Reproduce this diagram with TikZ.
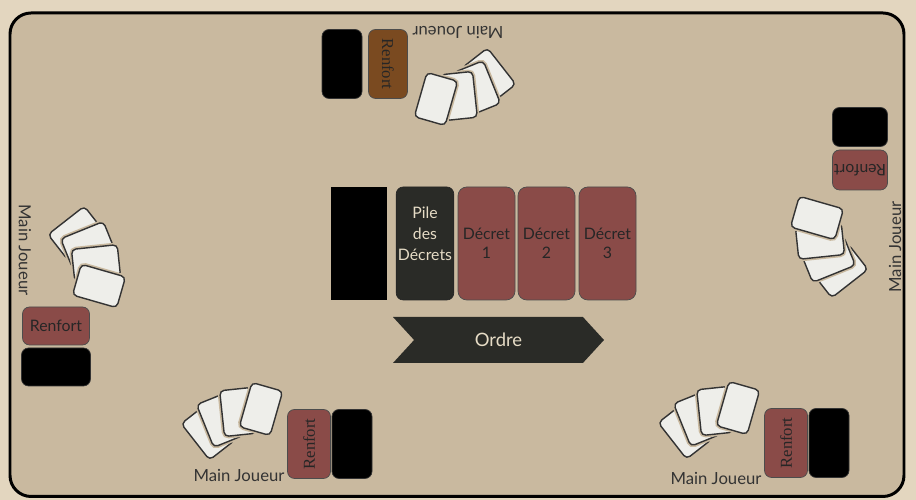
\documentclass[tikz,border=0pt]{standalone}
\usepackage{fontspec}
\setmainfont{Lato}
\newfontfamily\serifrm{Liberation Serif}
\usepackage{tikz}
\usetikzlibrary{shapes.symbols}
\definecolor{tablebg}{HTML}{C9B99F}
\definecolor{roombg}{HTML}{E3D6BF}
\definecolor{slate}{HTML}{2A2B27}
\definecolor{decretred}{HTML}{8A4B48}
\definecolor{renfortbrown}{HTML}{7A4A20}
\definecolor{cardwhite}{HTML}{EEEEEA}
\definecolor{creamtext}{HTML}{E6DCC6}

\begin{document}
\begin{tikzpicture}[
  font=\fontsize{9}{11}\selectfont,
  table/.style={draw=black, line width=1.7pt, fill=tablebg, rounded corners=12pt},
  deck/.style={fill=black, minimum width=1.12cm, minimum height=2.26cm, inner sep=0pt},
  pile/.style={draw=black!85, fill=slate, rounded corners=4pt, minimum width=1.12cm, minimum height=2.26cm, inner sep=1pt, align=center, text=creamtext, font=\fontsize{9}{12}\selectfont, text depth=0.40cm},
  decret/.style={draw=black!70, fill=decretred, rounded corners=5pt, minimum width=1.14cm, minimum height=2.26cm, inner sep=1pt, align=center, text=black!85},
  ordre/.style={signal, signal from=west, signal to=east, signal pointer angle=95, fill=slate, minimum width=4.22cm, minimum height=0.92cm, inner sep=0pt, text=creamtext, font=\fontsize{10.5}{12}\selectfont},
  card/.style={draw=black!80, line width=0.8pt, fill=cardwhite, rounded corners=2.5pt, minimum width=0.64cm, minimum height=0.92cm, preaction={draw=tablebg, line width=2.6pt}},
  renfort/.style={draw=black!70, fill=decretred, rounded corners=4pt, minimum width=1.38cm, minimum height=0.86cm, inner sep=0pt, text=black!85},
  seriflabel/.style={font=\serifrm\fontsize{9.5}{11}\selectfont},
  stock/.style={draw=black!80, fill=black, rounded corners=4pt, minimum width=0.8cm, minimum height=1.38cm},
  hand/.style={text=black!80, font=\fontsize{9.5}{11}\selectfont}
]
\useasboundingbox (0,0) rectangle (18.32,10);
\fill[roombg] (0,0) rectangle (18.32,10);
\draw[table] (0.2,0.07) rectangle (18.08,9.74);

% plateau central
\node[deck] (pioche) at (7.18,5.13) {};
\node[pile] (pile) at (8.50,5.13) {Pile\\des\\Décrets};
\node[decret] (decretone) at (9.73,5.13) {Décret\\1};
\node[decret] (decrettwo) at (10.93,5.13) {Décret\\2};
\node[decret] (decretthree) at (12.15,5.13) {Décret\\3};
\node[ordre] (ordre) at (9.97,3.20) {Ordre};

% joueur bas gauche
\begin{scope}[shift={(6.18,1.12)}, transform shape]
  \node[card, rotate=38] (cardSWa) at (-2.02,0.24) {};
  \node[card, rotate=22] (cardSWb) at (-1.78,0.48) {};
  \node[card, rotate=6] (cardSWc) at (-1.42,0.64) {};
  \node[card, rotate=-16] (cardSWd) at (-0.96,0.70) {};
  \node[renfort, seriflabel, rotate=90] (renfortSW) at (0,0) {Renfort};
  \node[stock] (stockSW) at (0.86,0) {};
  \node[hand] (mainSW) at (-1.40,-0.62) {Main Joueur};
\end{scope}

% joueur bas droite
\begin{scope}[shift={(15.72,1.14)}, transform shape]
  \node[card, rotate=38] (cardSEa) at (-2.02,0.24) {};
  \node[card, rotate=22] (cardSEb) at (-1.78,0.48) {};
  \node[card, rotate=6] (cardSEc) at (-1.42,0.64) {};
  \node[card, rotate=-16] (cardSEd) at (-0.96,0.70) {};
  \node[renfort, seriflabel, rotate=90] (renfortSE) at (0,0) {Renfort};
  \node[stock] (stockSE) at (0.86,0) {};
  \node[hand] (mainSE) at (-1.40,-0.70) {Main Joueur};
\end{scope}

% joueur haut
\begin{scope}[shift={(7.76,8.72)}, rotate=180, transform shape]
  \node[card, rotate=38] (cardNa) at (-2.02,0.24) {};
  \node[card, rotate=22] (cardNb) at (-1.78,0.48) {};
  \node[card, rotate=6] (cardNc) at (-1.42,0.64) {};
  \node[card, rotate=-16] (cardNd) at (-0.96,0.70) {};
  \node[renfort, seriflabel, fill=renfortbrown, minimum height=0.78cm, rotate=90] (renfortN) at (0,0) {Renfort};
  \node[stock] (stockN) at (0.92,0) {};
  \node[hand] (mainN) at (-1.40,-0.62) {Main Joueur};
\end{scope}

% joueur droite
\begin{scope}[shift={(17.20,6.60)}, rotate=90, transform shape]
  \node[card, rotate=38] (cardEa) at (-2.02,0.40) {};
  \node[card, rotate=22] (cardEb) at (-1.78,0.64) {};
  \node[card, rotate=6] (cardEc) at (-1.42,0.80) {};
  \node[card, rotate=-16] (cardEd) at (-0.96,0.86) {};
  \node[renfort, minimum width=1.10cm, minimum height=0.80cm, rotate=90] (renfortE) at (0,0) {Renfort};
  \node[stock, minimum height=1.10cm, minimum width=0.78cm] (stockE) at (0.86,0) {};
  \node[hand] (mainE) at (-1.54,-0.70) {Main Joueur};
\end{scope}

% joueur gauche
\begin{scope}[shift={(1.12,3.48)}, rotate=-90, transform shape]
  \node[card, rotate=38] (cardWa) at (-1.86,0.40) {};
  \node[card, rotate=22] (cardWb) at (-1.62,0.64) {};
  \node[card, rotate=6] (cardWc) at (-1.26,0.80) {};
  \node[card, rotate=-16] (cardWd) at (-0.80,0.86) {};
  \node[renfort, minimum width=1.34cm, minimum height=0.76cm, rotate=90] (renfortW) at (0,0) {Renfort};
  \node[stock, minimum width=0.76cm] (stockW) at (0.82,0) {};
  \node[hand] (mainW) at (-1.52,-0.62) {Main Joueur};
\end{scope}
\end{tikzpicture}
\end{document}
